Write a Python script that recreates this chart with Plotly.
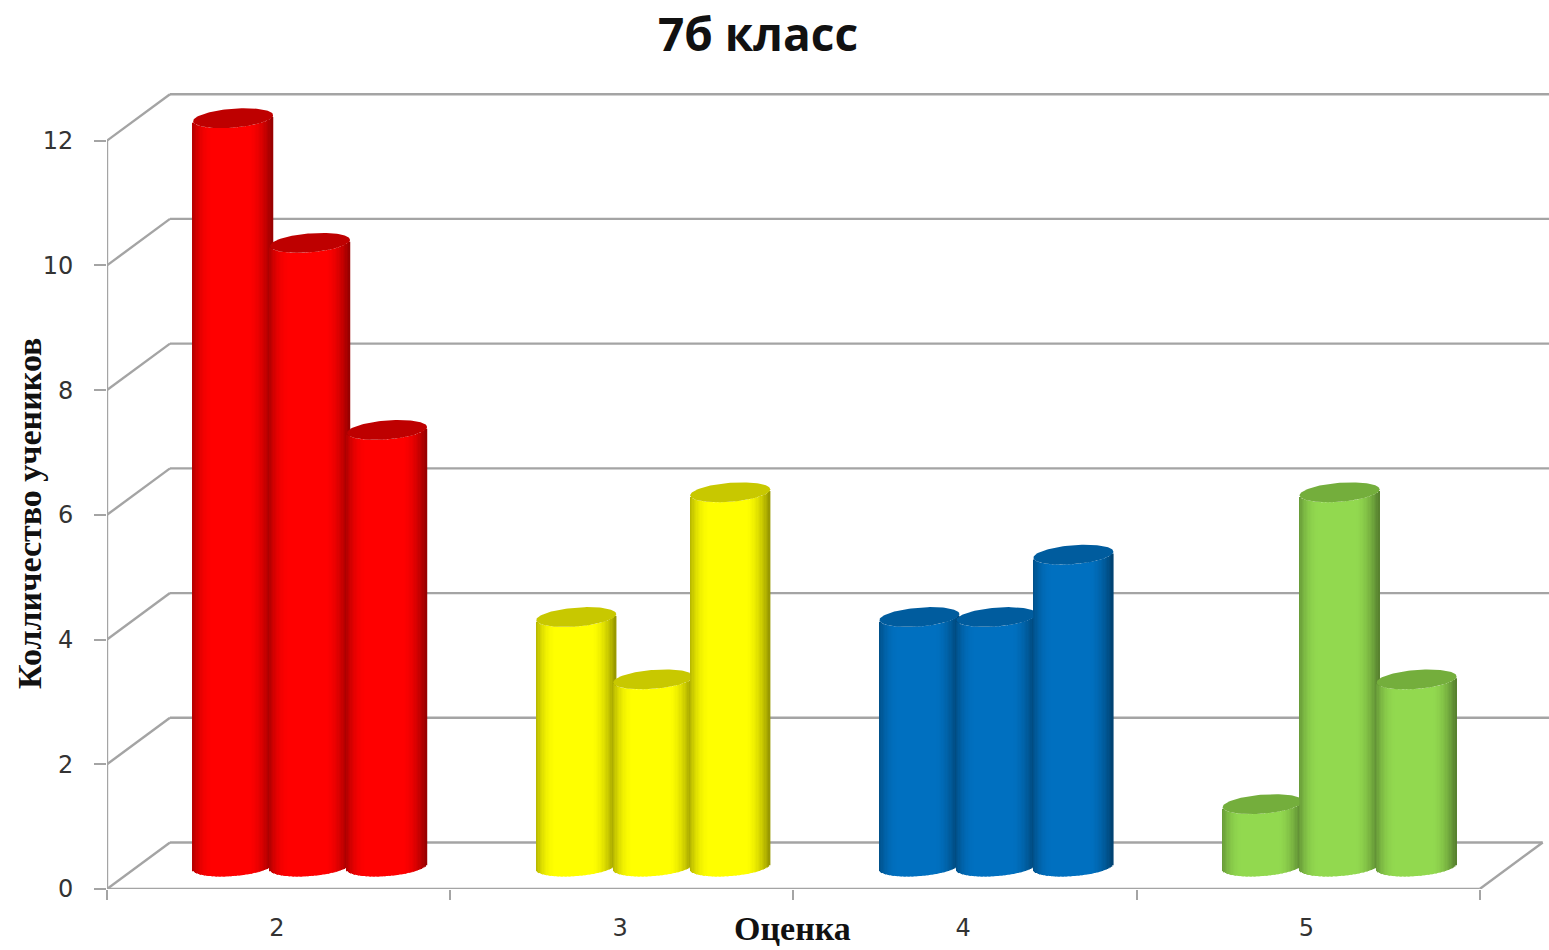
import numpy as np
import plotly.graph_objects as go

categories = ["2", "3", "4", "5"]
series_1 = [12, 4, 4, 1]
series_2 = [10, 3, 4, 6]
series_3 = [7, 6, 5, 3]
y_ticks = [0, 2, 4, 6, 8, 10, 12]
body_colors = ["#FF0000", "#FFFF00", "#0070C0", "#92D94F"]
cap_colors = ["#BE0000", "#C8C800", "#005C9E", "#74AE3C"]

W, H = 1549, 950
X0, XSTEP = 106.7, 343.25      # pixel of category boundary 0, pixels per category
Y0, YSTEP = 889.5, 62.4        # pixel of value 0, pixels per value unit
TOP = 60
GRID = "#A4A4A4"
DEPTH_X, DEPTH_Y = 63 / XSTEP, 46.5 / YSTEP
MID_X, MID_Y = 31.5 / XSTEP, 22.5 / YSTEP
BAR_STEP, BAR_W = 77 / XSTEP, 80 / XSTEP
SAG, TILT = 9.5 / YSTEP, 3.0 / YSTEP
N = 60
x_max = (W - X0) / XSTEP
y_max = (Y0 - TOP) / YSTEP
edges = np.linspace(-1, 1, N + 1)
ts = (edges[:-1] + edges[1:]) / 2


def shade(t):
    if t < -0.45:
        return 1 - 0.30 * ((-0.45 - t) / 0.55) ** 2.4
    if t > 0.4:
        return 1 - 0.42 * ((t - 0.4) / 0.6) ** 1.8
    return 1.0


def mix(hex_color, f):
    r, g, b = [int(hex_color[i:i + 2], 16) for i in (1, 3, 5)]
    return f"rgb({r * f:.0f},{g * f:.0f},{b * f:.0f})"


fig = go.Figure()
all_series = [series_1, series_2, series_3]

for s, values in enumerate(all_series):
    xs, ys, bases, widths, colors = [], [], [], [], []
    for c, v in enumerate(values):
        cx = c + 0.5 + MID_X + (s - 1) * BAR_STEP
        for t in ts:
            xs.append(cx + t * BAR_W / 2)
            ys.append(v)
            bases.append(MID_Y - SAG * np.sqrt(max(0, 1 - t * t)) + TILT * t)
            widths.append(BAR_W / N * 1.25)
            colors.append(mix(body_colors[c], shade(t)))
    fig.add_trace(go.Bar(x=xs, y=ys, base=bases, width=widths,
                         marker=dict(color=colors, line=dict(width=0)),
                         hoverinfo="skip", showlegend=False, name=f"Ряд {s + 1}"))

# elliptical tops of the cylinders
for s, values in enumerate(all_series):
    for c, v in enumerate(values):
        cx = c + 0.5 + MID_X + (s - 1) * BAR_STEP
        next_taller = s < 2 and all_series[s + 1][c] > v
        theta = np.linspace(0, 2 * np.pi, 121)
        t = np.cos(theta)
        if next_taller:
            t = np.minimum(t, (BAR_STEP - BAR_W / 2) / (BAR_W / 2))
        ex = cx + t * BAR_W / 2
        ey = v + MID_Y + SAG * np.sin(theta) + TILT * np.cos(theta)
        fig.add_trace(go.Scatter(x=ex, y=ey, mode="lines", fill="toself",
                                 fillcolor=cap_colors[c], line=dict(width=0),
                                 hoverinfo="skip", showlegend=False))

shapes = []


def seg(x0, y0, x1, y1):
    shapes.append(dict(type="line", xref="x", yref="y", x0=x0, y0=y0, x1=x1, y1=y1,
                       layer="below", line=dict(color=GRID, width=2.4)))


for v in y_ticks:
    seg(0, v, DEPTH_X, v + DEPTH_Y)
    seg(DEPTH_X, v + DEPTH_Y, (len(categories) + DEPTH_X) if v == 0 else x_max, v + DEPTH_Y)
seg(0, 0, 0, y_ticks[-1])
seg(0, 0, len(categories), 0)
seg(len(categories), 0, len(categories) + DEPTH_X, DEPTH_Y)


def note(text, px, py, size, family, angle=0):
    return dict(text=f"<b>{text}</b>", xref="paper", yref="paper",
                x=(px - X0) / (W - X0), y=(Y0 - py) / (Y0 - TOP), textangle=angle,
                xanchor="center", yanchor="middle", showarrow=False,
                font=dict(family=family, size=size, color="#111111"))


fig.update_layout(
    width=W, height=H, autosize=False,
    margin=dict(l=X0, r=0, t=TOP, b=H - Y0, pad=0),
    paper_bgcolor="white", plot_bgcolor="white",
    barmode="overlay", showlegend=False, shapes=shapes,
    xaxis=dict(range=[0, x_max], showgrid=False, zeroline=False, showline=False,
               tickmode="array", tickvals=[i + 0.495 for i in range(len(categories))],
               ticktext=categories, ticks="", ticklabelstandoff=22,
               tickfont=dict(family="DejaVu Sans", size=24, color="#333333"),
               minor=dict(tickmode="array", tickvals=list(range(len(categories) + 1)),
                          ticks="outside", ticklen=10, tickwidth=2, tickcolor=GRID,
                          showgrid=False)),
    yaxis=dict(range=[0, y_max], showgrid=False, zeroline=False, showline=False,
               tickmode="array", tickvals=y_ticks, ticktext=[str(v) for v in y_ticks],
               ticks="outside", ticklen=12, tickwidth=2, tickcolor=GRID,
               ticklabelstandoff=16,
               tickfont=dict(family="DejaVu Sans", size=24, color="#333333")),
    annotations=[
        note("7б класс", 758, 33, 46, "Open Sans"),
        note("Оценка", 792, 929, 34, "Liberation Serif"),
        note("Колличество учеников", 29, 514, 34, "Liberation Serif", -90),
    ],
)

fig.write_html("out.html", config=dict(displayModeBar=False),
               post_script="document.body.style.margin='0';")
